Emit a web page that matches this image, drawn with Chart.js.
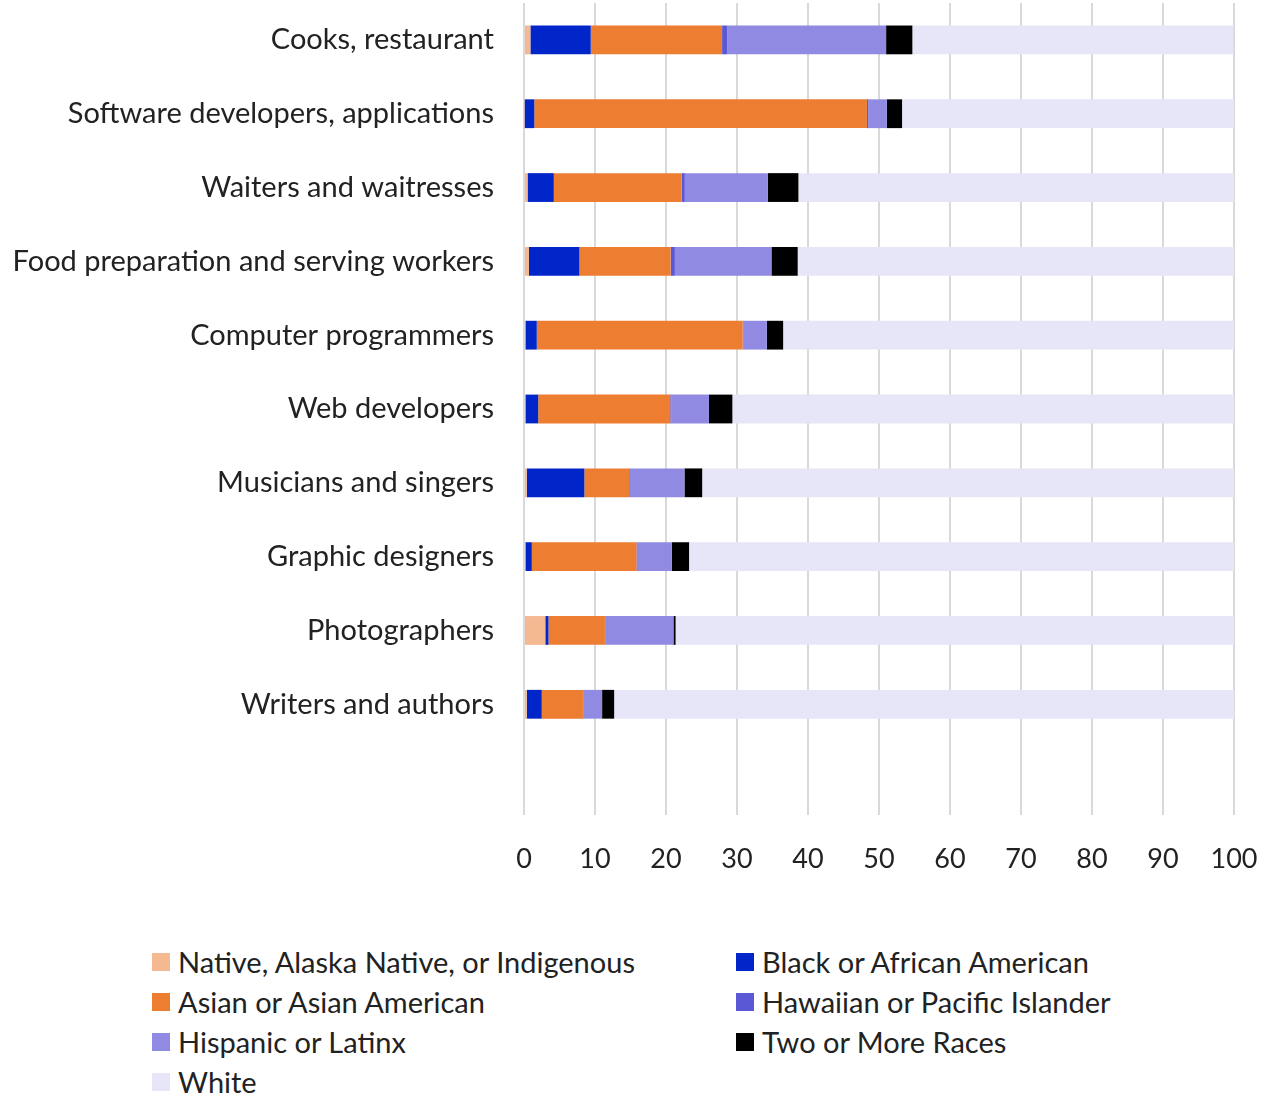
<!DOCTYPE html>
<html>
<head>
<meta charset="utf-8">
<script src="https://cdn.jsdelivr.net/npm/chart.js@4/dist/chart.umd.min.js"></script>
<style>
  body { margin: 0; background: #fff; font-family: Lato, sans-serif; }
  #wrap { position: relative; width: 1261px; height: 900px; }
  #legend { position: absolute; left: 152px; top: 947px; width: 1100px;
    display: grid; grid-template-columns: 584px 500px; row-gap: 11px; }
  .item { display: flex; align-items: center; font-size: 29px; color: #222; height: 29px; }
  .box { width: 18px; height: 18px; margin-right: 8px; flex: none; }
</style>
</head>
<body>
<div id="wrap"><canvas id="grafico" width="1261" height="900"></canvas></div>
<div id="legend"></div>
<script>
const categorias = [
  "Cooks, restaurant",
  "Software developers, applications",
  "Waiters and waitresses",
  "Food preparation and serving workers",
  "Computer programmers",
  "Web developers",
  "Musicians and singers",
  "Graphic designers",
  "Photographers",
  "Writers and authors",
  ""
];
const nativo    = [0.9, 0.1, 0.5, 0.7, 0.2, 0.2, 0.4, 0.2, 3.0, 0.4];
const negro     = [8.5, 1.35, 3.7, 7.1, 1.6, 1.8, 8.1, 0.9, 0.45, 2.1];
const asiatico  = [18.5, 46.85, 18.0, 12.85, 29.0, 18.6, 6.3, 14.75, 7.95, 5.8];
const havaiano  = [0.75, 0.2, 0.45, 0.6, 0.1, 0.15, 0.1, 0.15, 0.05, 0.05];
const hispanico = [22.35, 2.6, 11.7, 13.6, 3.3, 5.3, 7.7, 4.8, 9.6, 2.65];
const mistos    = [3.7, 2.15, 4.3, 3.7, 2.3, 3.3, 2.5, 2.45, 0.3, 1.7];
const branco    = [45.2, 46.75, 61.35, 61.45, 63.5, 70.65, 74.9, 76.75, 78.65, 87.3];
const ticksX = [0, 10, 20, 30, 40, 50, 60, 70, 80, 90, 100];

const series = [
  { label: "Native, Alaska Native, or Indigenous", data: nativo, cor: "#f4b990" },
  { label: "Black or African American", data: negro, cor: "#0026c9" },
  { label: "Asian or Asian American", data: asiatico, cor: "#ed7d31" },
  { label: "Hawaiian or Pacific Islander", data: havaiano, cor: "#5b58d6" },
  { label: "Hispanic or Latinx", data: hispanico, cor: "#908ae2" },
  { label: "Two or More Races", data: mistos, cor: "#000000" },
  { label: "White", data: branco, cor: "#e7e6f8" }
];

new Chart(document.getElementById("grafico"), {
  type: "bar",
  data: {
    labels: categorias,
    datasets: series.map(s => ({
      label: s.label,
      data: s.data,
      backgroundColor: s.cor,
      categoryPercentage: 1,
      barPercentage: 0.39
    }))
  },
  options: {
    indexAxis: "y",
    responsive: false,
    animation: false,
    devicePixelRatio: 1,
    layout: { padding: { top: 3, right: 27, left: 0, bottom: 0 } },
    plugins: {
      legend: { display: false },
      tooltip: { enabled: false }
    },
    scales: {
      x: {
        stacked: true,
        min: 0,
        max: 100,
        afterBuildTicks: axis => { axis.ticks = ticksX.map(v => ({ value: v })); },
        afterFit: axis => {
          axis.height = 85;
          axis.paddingLeft = 0;
          axis.paddingRight = 0;
        },
        ticks: { color: "#222", font: { family: "Lato, sans-serif", size: 27 }, padding: 28, maxRotation: 0 },
        grid: { color: "#d9d9d9", lineWidth: 2, drawTicks: false },
        border: { display: false }
      },
      y: {
        stacked: true,
        afterFit: axis => {
          axis.width = 524;
          axis.paddingTop = 0;
          axis.paddingBottom = 0;
        },
        ticks: { color: "#222", font: { family: "Lato, sans-serif", size: 29 }, padding: 22 },
        grid: { display: false },
        border: { display: false }
      }
    }
  }
});

// legenda em duas colunas
const leg = document.getElementById("legend");
series.forEach(s => {
  const d = document.createElement("div");
  d.className = "item";
  d.innerHTML = '<span class="box" style="background:' + s.cor + '"></span>' + s.label;
  leg.appendChild(d);
});
</script>
</body>
</html>
